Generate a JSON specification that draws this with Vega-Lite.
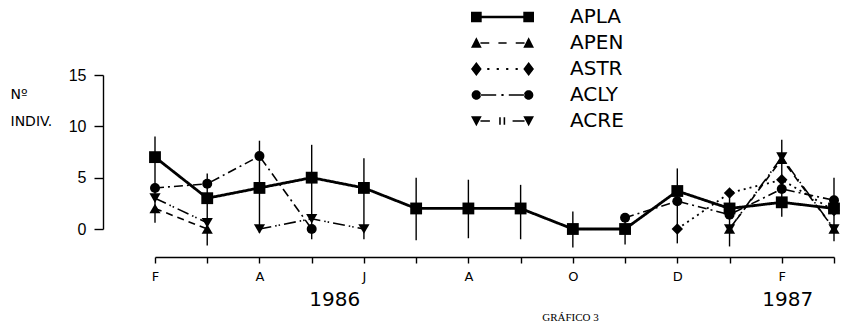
{
  "$schema": "https://vega.github.io/schema/vega-lite/v6.json",
  "width": 679,
  "height": 154,
  "autosize": {"type": "none"},
  "padding": {"left": 155, "top": 75, "right": 20, "bottom": 100},
  "background": "white",
  "config": {"view": {"stroke": null}, "font": "DejaVu Sans"},
  "datasets": {
    "err": [
      {"month": "1986-02", "lo": 0.6, "hi": 9.0},
      {"month": "1986-03", "lo": -1.6, "hi": 5.4},
      {"month": "1986-04", "lo": -0.4, "hi": 8.6},
      {"month": "1986-05", "lo": -1.0, "hi": 8.2},
      {"month": "1986-06", "lo": -1.0, "hi": 6.9},
      {"month": "1986-07", "lo": -1.1, "hi": 5.0},
      {"month": "1986-08", "lo": -0.9, "hi": 4.8},
      {"month": "1986-09", "lo": -1.0, "hi": 4.3},
      {"month": "1986-10", "lo": -1.8, "hi": 1.7},
      {"month": "1986-11", "lo": -1.5, "hi": 1.3},
      {"month": "1986-12", "lo": -1.4, "hi": 5.9},
      {"month": "1987-01", "lo": -1.7, "hi": 3.8},
      {"month": "1987-02", "lo": 1.2, "hi": 8.7},
      {"month": "1987-03", "lo": -1.2, "hi": 5.0}
    ],
    "obs": [
      {"series": "APLA", "seg": 1, "month": "1986-02", "value": 7},
      {"series": "APLA", "seg": 1, "month": "1986-03", "value": 3},
      {"series": "APLA", "seg": 1, "month": "1986-04", "value": 4},
      {"series": "APLA", "seg": 1, "month": "1986-05", "value": 5},
      {"series": "APLA", "seg": 1, "month": "1986-06", "value": 4},
      {"series": "APLA", "seg": 1, "month": "1986-07", "value": 2},
      {"series": "APLA", "seg": 1, "month": "1986-08", "value": 2},
      {"series": "APLA", "seg": 1, "month": "1986-09", "value": 2},
      {"series": "APLA", "seg": 1, "month": "1986-10", "value": 0},
      {"series": "APLA", "seg": 1, "month": "1986-11", "value": 0},
      {"series": "APLA", "seg": 1, "month": "1986-12", "value": 3.7},
      {"series": "APLA", "seg": 1, "month": "1987-01", "value": 2},
      {"series": "APLA", "seg": 1, "month": "1987-02", "value": 2.6},
      {"series": "APLA", "seg": 1, "month": "1987-03", "value": 2},
      {"series": "APEN", "seg": 1, "month": "1986-02", "value": 2},
      {"series": "APEN", "seg": 1, "month": "1986-03", "value": 0},
      {"series": "APEN", "seg": 2, "month": "1987-01", "value": 0},
      {"series": "APEN", "seg": 2, "month": "1987-02", "value": 6.8},
      {"series": "APEN", "seg": 2, "month": "1987-03", "value": 0},
      {"series": "ASTR", "seg": 1, "month": "1986-12", "value": 0},
      {"series": "ASTR", "seg": 1, "month": "1987-01", "value": 3.5},
      {"series": "ASTR", "seg": 1, "month": "1987-02", "value": 4.8},
      {"series": "ASTR", "seg": 1, "month": "1987-03", "value": 1.8},
      {"series": "ACLY", "seg": 1, "month": "1986-02", "value": 4},
      {"series": "ACLY", "seg": 1, "month": "1986-03", "value": 4.4},
      {"series": "ACLY", "seg": 1, "month": "1986-04", "value": 7.1},
      {"series": "ACLY", "seg": 1, "month": "1986-05", "value": 0},
      {"series": "ACLY", "seg": 2, "month": "1986-11", "value": 1.1},
      {"series": "ACLY", "seg": 2, "month": "1986-12", "value": 2.7},
      {"series": "ACLY", "seg": 2, "month": "1987-01", "value": 1.4},
      {"series": "ACLY", "seg": 2, "month": "1987-02", "value": 3.9},
      {"series": "ACLY", "seg": 2, "month": "1987-03", "value": 2.8},
      {"series": "ACRE", "seg": 1, "month": "1986-02", "value": 3},
      {"series": "ACRE", "seg": 1, "month": "1986-03", "value": 0.6},
      {"series": "ACRE", "seg": 2, "month": "1986-04", "value": 0},
      {"series": "ACRE", "seg": 2, "month": "1986-05", "value": 1},
      {"series": "ACRE", "seg": 2, "month": "1986-06", "value": 0},
      {"series": "ACRE", "seg": 3, "month": "1987-01", "value": 0},
      {"series": "ACRE", "seg": 3, "month": "1987-02", "value": 7},
      {"series": "ACRE", "seg": 3, "month": "1987-03", "value": 0}
    ]
  },
  "encoding": {
    "x": {
      "field": "month",
      "type": "ordinal",
      "sort": null,
      "scale": {
        "type": "point",
        "padding": 0,
        "domain": ["1986-02", "1986-03", "1986-04", "1986-05", "1986-06", "1986-07", "1986-08", "1986-09", "1986-10", "1986-11", "1986-12", "1987-01", "1987-02", "1987-03"]
      },
      "axis": {
        "title": "GRÁFICO 3",
        "titleFont": "Liberation Serif",
        "titleFontSize": 11,
        "titleFontWeight": "normal",
        "titleColor": "black",
        "titleX": 415,
        "titleY": 60,
        "titleBaseline": "middle",
        "titleAlign": "center",
        "offset": 28,
        "domainColor": "black",
        "domainWidth": 1.4,
        "tickColor": "black",
        "tickWidth": 1.4,
        "tickSize": 6,
        "labelAngle": 0,
        "labelFont": "DejaVu Sans",
        "labelFontSize": 13,
        "labelColor": "black",
        "labelPadding": 7,
        "labelOverlap": false,
        "labelExpr": "toNumber(slice(datum.value, 5)) % 2 == 0 ? substring('JFMAMJJASOND', toNumber(slice(datum.value, 5)) - 1, toNumber(slice(datum.value, 5))) : ''",
        "grid": false
      }
    }
  },
  "resolve": {
    "scale": {"shape": "independent", "size": "independent"},
    "legend": {"shape": "independent", "size": "independent"}
  },
  "layer": [
    {
      "data": {"name": "err"},
      "mark": {"type": "rule", "color": "black", "strokeWidth": 1.4},
      "encoding": {
        "y": {
          "field": "lo",
          "type": "quantitative",
          "scale": {"domain": [0, 15], "nice": false, "zero": false},
          "axis": {
            "title": ["Nº", "INDIV."],
            "titleAngle": 0,
            "titleAlign": "left",
            "titleBaseline": "alphabetic",
            "titleX": -93,
            "titleY": 23,
            "titleFont": "DejaVu Sans",
            "titleFontSize": 14,
            "titleFontWeight": "normal",
            "titleLineHeight": 27,
            "titleColor": "black",
            "offset": 52,
            "values": [0, 5, 10, 15],
            "tickSize": 9,
            "tickWidth": 1.4,
            "tickColor": "black",
            "domainColor": "black",
            "domainWidth": 1.4,
            "labelFont": "Liberation Sans",
            "labelFontSize": 16,
            "labelColor": "black",
            "labelPadding": 8,
            "grid": false
          }
        },
        "y2": {"field": "hi"}
      }
    },
    {
      "data": {"name": "obs"},
      "mark": {"type": "line", "color": "black"},
      "encoding": {
        "y": {"field": "value", "type": "quantitative", "scale": {"domain": [0, 15], "nice": false, "zero": false}},
        "detail": {"field": "seg"},
        "strokeDash": {
          "field": "series",
          "type": "nominal",
          "scale": {"domain": ["APEN", "APLA", "ASTR", "ACLY", "ACRE"], "range": [[7, 5], [1, 0], [2, 4], [9, 4, 2, 4], [12, 4, 1.5, 2, 1.5, 4]]},
          "legend": null
        },
        "strokeWidth": {
          "field": "series",
          "type": "nominal",
          "scale": {"type": "ordinal", "domain": ["ASTR", "APLA", "APEN", "ACLY", "ACRE"], "range": [1.8, 2.8, 1.6, 1.6, 1.6]},
          "legend": null
        }
      }
    },
    {
      "data": {"name": "obs"},
      "mark": {"type": "point", "filled": true, "color": "black", "opacity": 1},
      "encoding": {
        "y": {"field": "value", "type": "quantitative", "scale": {"domain": [0, 15], "nice": false, "zero": false}},
        "size": {
          "field": "series",
          "type": "nominal",
          "scale": {"type": "ordinal", "domain": ["ACRE", "ACLY", "ASTR", "APEN", "APLA"], "range": [125, 100, 130, 125, 140]},
          "legend": null
        },
        "shape": {
          "field": "series",
          "type": "nominal",
          "scale": {"domain": ["APLA", "APEN", "ASTR", "ACLY", "ACRE"], "range": ["square", "triangle-up", "diamond", "circle", "triangle-down"]},
          "legend": null
        }
      }
    },
    {
      "data": {"name": "obs"},
      "mark": {"type": "point", "filled": true, "color": "black", "opacity": 0},
      "encoding": {
        "y": {"field": "value", "type": "quantitative", "scale": {"domain": [0, 15], "nice": false, "zero": false}},
        "shape": {
          "field": "series",
          "type": "nominal",
          "scale": {
            "domain": ["APLA", "APEN", "ASTR", "ACLY", "ACRE"],
            "range": [
              "M-1,-0.17H-0.66V0.17H-1Z M0.66,-0.17H1V0.17H0.66Z M-0.67,-0.038H0.67V0.038H-0.67Z",
              "M-1,0.15L-0.83,-0.18L-0.66,0.15Z M0.66,0.15L0.83,-0.18L1,0.15Z M-0.7,-0.025H-0.42V0.025H-0.7Z M-0.13,-0.025H0.13V0.025H-0.13Z M0.42,-0.025H0.7V0.025H0.42Z",
              "M-1,0L-0.83,-0.22L-0.66,0L-0.83,0.22Z M0.66,0L0.83,-0.22L1,0L0.83,0.22Z M-0.485,-0.035h0.07v0.07h-0.07Z M-0.185,-0.035h0.07v0.07h-0.07Z M0.115,-0.035h0.07v0.07h-0.07Z M0.415,-0.035h0.07v0.07h-0.07Z",
              "M-0.98,0A0.15,0.15 0 1,0 -0.68,0A0.15,0.15 0 1,0 -0.98,0Z M0.68,0A0.15,0.15 0 1,0 0.98,0A0.15,0.15 0 1,0 0.68,0Z M-0.7,-0.025H-0.2V0.025H-0.7Z M-0.035,-0.035h0.07v0.07h-0.07Z M0.2,-0.025H0.7V0.025H0.2Z",
              "M-1,-0.15L-0.66,-0.15L-0.83,0.17Z M0.66,-0.15L1,-0.15L0.83,0.17Z M-0.7,-0.025H-0.4V0.025H-0.7Z M-0.105,-0.12h0.05v0.24h-0.05Z M0.035,-0.12h0.05v0.24h-0.05Z M0.32,-0.025H0.7V0.025H0.32Z"
            ]
          },
          "legend": {
            "title": null,
            "orient": "none",
            "legendX": 315,
            "legendY": -70,
            "direction": "vertical",
            "padding": 0,
            "symbolSize": 3969,
            "clipHeight": 24,
            "rowPadding": 2,
            "labelOffset": 35,
            "labelFont": "DejaVu Sans",
            "labelFontSize": 20,
            "labelColor": "black",
            "symbolOpacity": 1,
            "symbolFillColor": "black",
            "symbolStrokeColor": "black"
          }
        }
      }
    },
    {
      "data": {"values": [{"month": "1986-05", "year": "1986"}]},
      "mark": {"type": "text", "dx": 23, "font": "DejaVu Sans", "fontSize": 20, "baseline": "middle", "align": "center", "color": "black"},
      "encoding": {
        "y": {"datum": -6.9, "type": "quantitative", "scale": {"domain": [0, 15], "nice": false, "zero": false}},
        "text": {"field": "year"}
      }
    },
    {
      "data": {"values": [{"month": "1987-02", "year": "1987"}]},
      "mark": {"type": "text", "dx": 6, "font": "DejaVu Sans", "fontSize": 20, "baseline": "middle", "align": "center", "color": "black"},
      "encoding": {
        "y": {"datum": -6.9, "type": "quantitative", "scale": {"domain": [0, 15], "nice": false, "zero": false}},
        "text": {"field": "year"}
      }
    }
  ]
}
